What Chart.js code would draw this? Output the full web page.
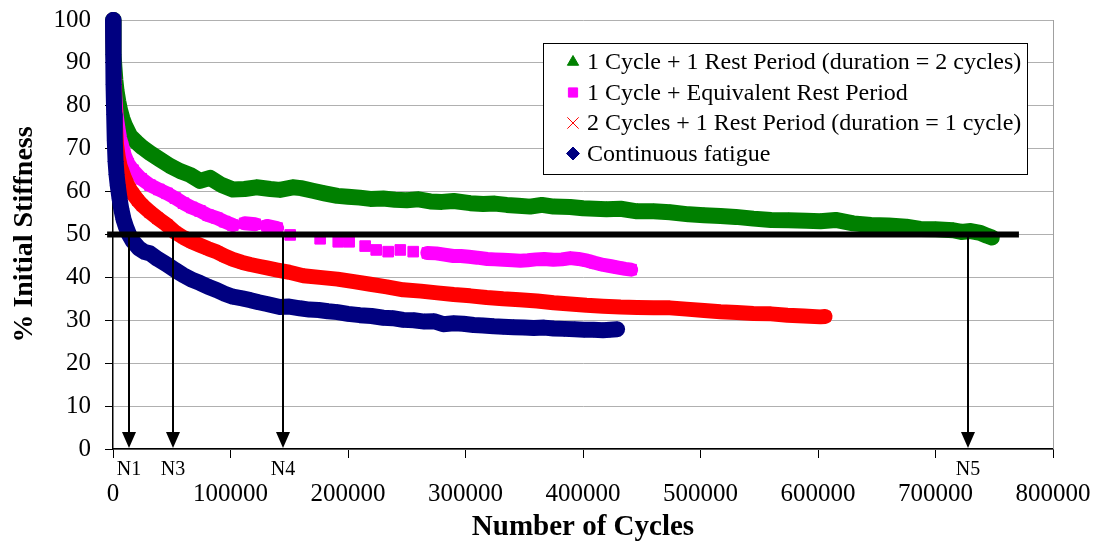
<!DOCTYPE html>
<html>
<head>
<meta charset="utf-8">
<title>% Initial Stiffness vs Number of Cycles</title>
<script src="https://cdn.jsdelivr.net/npm/chart.js@4.4.1/dist/chart.umd.min.js"></script>
<style>
  html, body { margin: 0; padding: 0; background: #fff; }
  #wrap { width: 1101px; height: 546px; position: relative; }
</style>
</head>
<body>
<div id="wrap"><canvas id="stiffnessChart"></canvas></div>
<script>
// Series data
const seriesLabels = [
  '1 Cycle + 1 Rest Period (duration = 2 cycles)',
  '1 Cycle + Equivalent Rest Period',
  '2 Cycles + 1 Rest Period (duration = 1 cycle)',
  'Continuous fatigue'
];

const greenCycles = [0, 300, 700, 1200, 2000, 3000, 4500, 6000, 8000, 10000, 14500, 20000, 25000, 31500, 40000, 48500, 57000, 65600, 74000, 82600, 92000, 102000, 112000, 122000, 134000, 142000, 153000, 160000, 170000, 180000, 191000, 200000, 210000, 219000, 230000, 240000, 250000, 260000, 270000, 280000, 290000, 304000, 315000, 325000, 335000, 345000, 355000, 365000, 375000, 389000, 400000, 410000, 420000, 432000, 446000, 460000, 474000, 490000, 503000, 517000, 530000, 545000, 560000, 575000, 590000, 602000, 615000, 630000, 645000, 660000, 675000, 687000, 700000, 715000, 722000, 730000, 738000, 744000, 748000];
const greenStiffness = [100, 96, 92, 89, 86, 83.5, 81, 79, 77, 75.5, 73, 71.5, 70.3, 69, 67.5, 66, 64.8, 63.9, 62.5, 63.2, 61.6, 60.5, 60.6, 61, 60.6, 60.4, 61, 60.8, 60.2, 59.6, 59, 58.8, 58.6, 58.3, 58.4, 58.1, 58, 58.2, 57.7, 57.6, 57.8, 57.3, 57.1, 57.2, 56.9, 56.7, 56.5, 56.9, 56.5, 56.4, 56.1, 56, 55.9, 56, 55.4, 55.4, 55.2, 54.7, 54.5, 54.3, 54.1, 53.7, 53.4, 53.3, 53.2, 53.1, 53.4, 52.6, 52.2, 52.1, 51.8, 51.3, 51.2, 51, 50.6, 50.8, 50.4, 49.7, 49.3];

const pinkCycles = [0, 300, 700, 1200, 2000, 3000, 4500, 6000, 8000, 10000, 13000, 17000, 24000, 31500, 39000, 46000, 53000, 60000, 67000, 74000, 81000, 88600, 95000, 102000, 112000, 121000, 131000, 139700, 150800, 176300, 191700, 201000, 214600, 224000, 234200, 244500, 255500, 267500, 275000, 282000, 289600, 296000, 303000, 310000, 318600, 325000, 332000, 340000, 346700, 353000, 360000, 367000, 374800, 382000, 389300, 396000, 403700, 410000, 417400, 424000, 430000, 436000, 441000];
const pinkStiffness = [100, 95, 90, 86, 82, 78, 75, 72.5, 70.5, 68.5, 66.5, 65, 63, 61.5, 60.5, 59.6, 58.5, 57.3, 56.3, 55.5, 54.5, 53.8, 53, 52.2, 52.6, 52.4, 52, 51.5, 49.9, 49, 48.3, 48.3, 47.3, 46.4, 46, 46.4, 46, 45.7, 45.6, 45.3, 45, 45, 44.8, 44.6, 44.3, 44.2, 44.1, 44, 43.9, 44, 44.2, 44.3, 44.1, 44.2, 44.5, 44.3, 43.9, 43.4, 42.9, 42.6, 42.3, 42, 41.8];

const redCycles = [0, 300, 700, 1200, 2000, 3000, 4500, 6000, 8000, 10000, 12000, 14500, 17000, 21000, 25000, 31500, 38000, 46000, 53000, 60000, 67000, 74000, 81000, 88600, 95000, 102000, 110000, 117000, 124000, 131000, 140000, 150000, 162000, 176000, 191000, 205000, 219000, 233000, 247000, 262000, 276000, 290000, 304000, 318000, 332000, 346000, 361000, 375000, 389000, 403000, 417000, 432000, 446000, 460000, 474000, 488000, 503000, 517000, 531000, 545000, 560000, 574000, 588000, 602000, 606000];
const redStiffness = [100, 94, 88, 82, 76, 71, 68, 66, 64.5, 63, 61.8, 60.5, 59.5, 58, 56.8, 55.2, 53.8, 52.2, 50.5, 49.3, 48.3, 47.5, 46.7, 45.9, 45, 44.2, 43.5, 43, 42.6, 42.2, 41.7, 41.2, 40.4, 40, 39.6, 39, 38.4, 37.8, 37.1, 36.8, 36.4, 36, 35.7, 35.3, 35, 34.8, 34.5, 34.1, 33.8, 33.5, 33.3, 33.1, 33, 32.9, 32.9, 32.6, 32.3, 32, 31.8, 31.6, 31.5, 31.2, 31, 30.8, 30.9];

const blueCycles = [0, 300, 600, 1000, 1500, 2200, 3000, 4000, 5500, 7000, 9000, 11000, 13600, 17000, 22000, 27000, 31500, 38000, 46000, 53000, 60000, 67000, 74000, 81000, 88600, 95000, 102000, 110000, 117000, 124000, 131000, 142000, 150000, 159000, 167000, 175000, 183000, 191000, 200000, 210000, 220000, 230000, 238000, 247000, 256000, 265000, 273000, 281000, 290000, 298000, 307000, 315000, 324000, 332000, 341000, 350000, 358000, 367000, 375000, 384000, 393000, 401000, 409000, 417000, 423000, 429000];
const blueStiffness = [100, 92, 85, 78, 72, 67, 64, 61.5, 58.5, 56, 53.5, 51.8, 50, 48.4, 46.8, 45.9, 45.6, 44.3, 43, 41.7, 40.5, 39.5, 38.7, 37.8, 37, 36.2, 35.5, 35.1, 34.7, 34.2, 33.8, 33.1, 33.2, 32.8, 32.5, 32.4, 32.1, 31.9, 31.5, 31.2, 31, 30.6, 30.5, 30.1, 30, 29.7, 29.8, 29.1, 29.3, 29.2, 28.9, 28.8, 28.6, 28.5, 28.4, 28.3, 28.2, 28.3, 28.1, 28, 27.9, 27.8, 27.8, 27.7, 27.8, 27.9];

// 50 % threshold line and the N arrows
const thresholdLevel = 50;
const thresholdFrom = -5000;
const thresholdTo = 771000;
const arrowCycles = [13600, 50800, 145000, 727700];
const arrowLabels = ['N1', 'N3', 'N4', 'N5'];

const xTicks = [0, 100000, 200000, 300000, 400000, 500000, 600000, 700000, 800000];
const yTicks = [0, 10, 20, 30, 40, 50, 60, 70, 80, 90, 100];

const SERIF = '"Liberation Serif", "Times New Roman", serif';
const toPoints = (xs, ys) => xs.map((x, i) => ({ x: x, y: ys[i] }));

const overlayPlugin = {
  id: 'overlay',
  afterDatasetsDraw(chart) {
    const { ctx, chartArea } = chart;
    const xs = chart.scales.x;
    const ys = chart.scales.y;
    ctx.save();

    // right border of the plot area
    ctx.strokeStyle = '#a0a0a0';
    ctx.lineWidth = 1;
    ctx.beginPath();
    ctx.moveTo(Math.round(chartArea.right) + 0.5, chartArea.top);
    ctx.lineTo(Math.round(chartArea.right) + 0.5, chartArea.bottom);
    ctx.stroke();

    // thick threshold line
    const yLevel = ys.getPixelForValue(thresholdLevel);
    ctx.strokeStyle = '#000';
    ctx.lineWidth = 6;
    ctx.beginPath();
    ctx.moveTo(xs.getPixelForValue(thresholdFrom), yLevel);
    ctx.lineTo(xs.getPixelForValue(thresholdTo), yLevel);
    ctx.stroke();

    // arrows down to the x axis
    const yZero = ys.getPixelForValue(0) - 1;
    ctx.fillStyle = '#000';
    ctx.lineWidth = 2;
    ctx.font = '20px ' + SERIF;
    ctx.textAlign = 'center';
    ctx.textBaseline = 'middle';
    arrowCycles.forEach((c, i) => {
      const px = Math.round(xs.getPixelForValue(c));
      ctx.beginPath();
      ctx.moveTo(px, yLevel);
      ctx.lineTo(px, yZero - 12);
      ctx.stroke();
      ctx.beginPath();
      ctx.moveTo(px - 7, yZero - 16);
      ctx.lineTo(px + 7, yZero - 16);
      ctx.lineTo(px, yZero);
      ctx.closePath();
      ctx.fill();
      ctx.fillText(arrowLabels[i], px, yZero + 22);
    });

    // legend box
    const bx = 543, by = 43, bw = 484, bh = 131;
    ctx.fillStyle = '#fff';
    ctx.fillRect(bx, by, bw, bh);
    ctx.strokeStyle = '#000';
    ctx.lineWidth = 1;
    ctx.strokeRect(bx + 0.5, by + 0.5, bw, bh);
    ctx.font = '24px ' + SERIF;
    ctx.textAlign = 'left';
    chart.data.datasets.forEach((ds, i) => {
      const rowY = by + 19 + i * 30.5;
      const isCross = ds.pointStyle === 'crossRot';
      ctx.fillStyle = ds.pointBackgroundColor;
      ctx.strokeStyle = ds.pointBorderColor;
      Chart.helpers.drawPoint(ctx, {
        pointStyle: ds.pointStyle,
        radius: isCross ? 8 : 6.5,
        rotation: 0,
        borderWidth: isCross ? 1.5 : 1
      }, bx + 30, rowY);
      ctx.fillStyle = '#000';
      ctx.fillText(ds.label, bx + 44, rowY + 1);
    });
    ctx.restore();
  }
};

const makeSet = (label, xs, ys, color, style, lineW, order) => ({
  label: label,
  data: toPoints(xs, ys),
  showLine: true,
  borderColor: color,
  backgroundColor: color,
  borderWidth: lineW,
  borderJoinStyle: 'round',
  borderCapStyle: 'round',
  pointStyle: style,
  pointRadius: 7.5,
  pointBackgroundColor: color,
  pointBorderColor: color,
  pointBorderWidth: style === 'crossRot' ? 2 : 1,
  clip: false,
  order: order
});

const datasets = [
  makeSet(seriesLabels[0], greenCycles, greenStiffness, '#008000', 'triangle', 16, 4),
  makeSet(seriesLabels[1], pinkCycles, pinkStiffness, '#ff00ff', 'rect', 14, 3),
  makeSet(seriesLabels[2], redCycles, redStiffness, '#ff0000', 'crossRot', 15, 2),
  makeSet(seriesLabels[3], blueCycles, blueStiffness, '#000080', 'rectRot', 16, 1)
];
// squares that stand alone in the middle of the pink run are not joined
datasets[1].segment = {
  borderColor: ctx => (ctx.p1.parsed.x - ctx.p0.parsed.x > 9000 ? 'rgba(0,0,0,0)' : '#ff00ff')
};

new Chart(document.getElementById('stiffnessChart'), {
  type: 'scatter',
  data: { datasets: datasets },
  plugins: [overlayPlugin],
  options: {
    responsive: true,
    maintainAspectRatio: false,
    animation: false,
    layout: { padding: { top: 20, right: 48, bottom: 0, left: 0 } },
    plugins: {
      legend: { display: false },
      tooltip: { enabled: false }
    },
    scales: {
      x: {
        type: 'linear',
        min: 0,
        max: 800000,
        afterFit: s => { s.height = 97; s.paddingLeft = 0; s.paddingRight = 0; },
        afterBuildTicks: s => { s.ticks = xTicks.map(v => ({ value: v })); },
        grid: { drawOnChartArea: false, tickColor: '#000', tickLength: 9, tickWidth: 1 },
        border: { color: '#000', width: 1.5 },
        ticks: {
          color: '#000',
          font: { family: SERIF, size: 25 },
          padding: 21,
          maxRotation: 0,
          callback: v => String(v)
        },
        title: {
          display: true,
          text: 'Number of Cycles',
          color: '#000',
          font: { family: SERIF, size: 29, weight: 'bold' },
          padding: { top: 1, bottom: 1 }
        }
      },
      y: {
        type: 'linear',
        min: 0,
        max: 100,
        afterFit: s => { s.width = 113; s.paddingTop = 0; s.paddingBottom = 0; },
        afterBuildTicks: s => { s.ticks = yTicks.map(v => ({ value: v })); },
        grid: { color: '#b0b0b0', tickColor: '#000', tickLength: 8, lineWidth: 1 },
        border: { color: '#000', width: 1.5 },
        ticks: {
          color: '#000',
          font: { family: SERIF, size: 25 },
          padding: 14
        },
        title: {
          display: true,
          text: '% Initial Stiffness',
          color: '#000',
          font: { family: SERIF, size: 28, weight: 'bold' },
          padding: { top: 8, bottom: 0 }
        }
      }
    }
  }
});
</script>
</body>
</html>
